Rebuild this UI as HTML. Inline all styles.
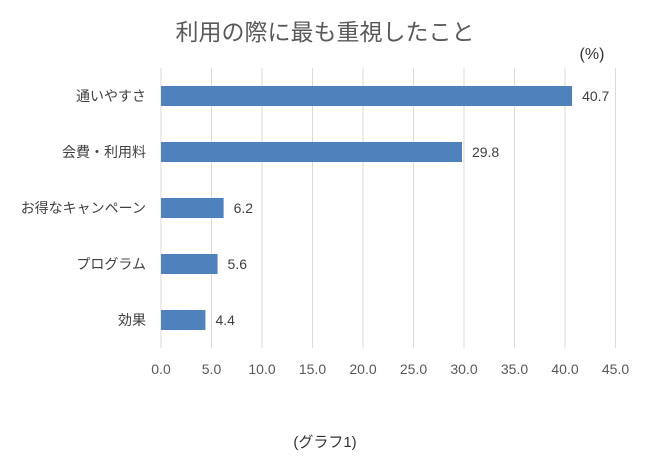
<!DOCTYPE html>
<html><head><meta charset="utf-8"><style>
body{margin:0;background:#fff;width:650px;height:465px;overflow:hidden;font-family:"Liberation Sans","Noto Sans CJK JP",sans-serif}
</style></head><body>
<svg width="650" height="465" style="font-family:'Liberation Sans','Noto Sans CJK JP',sans-serif">
<text x="325" y="40" text-anchor="middle" font-size="23" fill="#595959">利用の際に最も重視したこと</text>
<text x="592" y="59" text-anchor="middle" font-size="16" fill="#333">(%)</text>
<g id="grid"></g><g id="bars"></g><g id="ticks"></g>
<text x="325" y="447" text-anchor="middle" font-size="15" fill="#333">(グラフ1)</text>
</svg>
<script>
const categories=["通いやすさ","会費・利用料","お得なキャンペーン","プログラム","効果"];
const values=[40.7,29.8,6.2,5.6,4.4];
const tickLabels=[0,5,10,15,20,25,30,35,40,45];
const NS="http://www.w3.org/2000/svg";
const x0=161,xs=10.1,yTop=68,band=56,bh=20;
const X=v=>x0+v*xs, Y=i=>yTop+band*i+band/2;
function mk(t,a,p){const e=document.createElementNS(NS,t);for(const k in a)e.setAttribute(k,a[k]);p.appendChild(e);return e;}
const g=document.getElementById('grid'),b=document.getElementById('bars'),tk=document.getElementById('ticks');
tickLabels.forEach(t=>{
 const l=mk('line',{x1:X(t),x2:X(t),y1:yTop,y2:yTop+band*categories.length,stroke:'#d9d9d9','stroke-width':1},g);
 
 
 const tx=mk('text',{x:X(t),y:374,'text-anchor':'middle','font-size':14,fill:'#595959'},tk);
 tx.textContent=t.toFixed(1);
 
 
});
categories.forEach((c,i)=>{
 const r=mk('rect',{x:X(0),y:Y(i)-bh/2,width:X(values[i])-X(0),height:bh,fill:'#4f81bd'},b);
 
 
 const v=mk('text',{x:X(values[i])+10,y:Y(i)+5,'font-size':14,fill:'#404040'},b);
 v.textContent=values[i].toFixed(1);
 
 
 const cl=mk('text',{x:146,y:Y(i)+5,'text-anchor':'end','font-size':14,fill:'#404040'},b);
 cl.textContent=c;
 
 
});
</script>
</body></html>
